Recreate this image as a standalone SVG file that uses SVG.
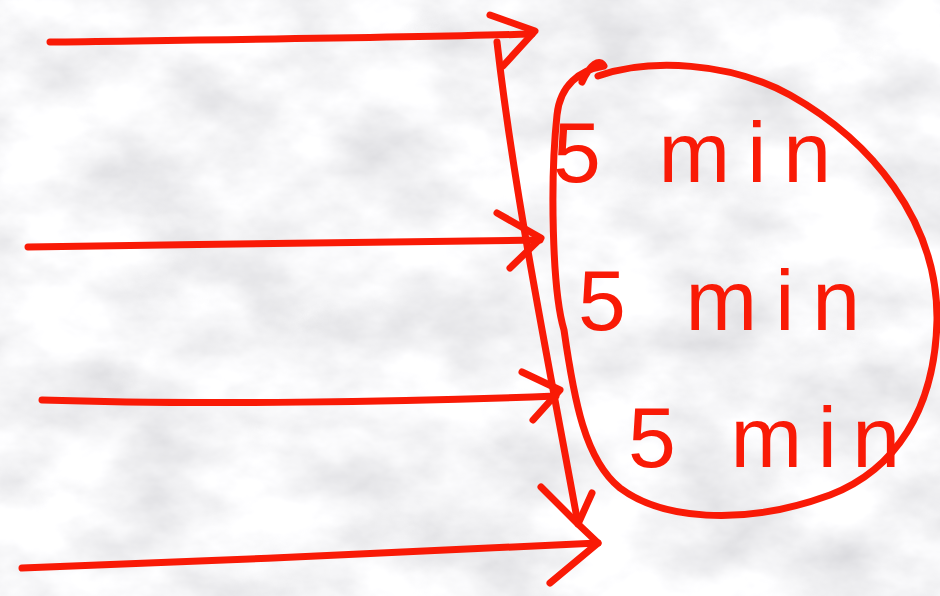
<svg xmlns="http://www.w3.org/2000/svg" width="940" height="596" viewBox="0 0 940 596">
<defs>
<filter id="marble" x="0" y="0" width="100%" height="100%">
<feTurbulence type="fractalNoise" baseFrequency="0.009 0.014" numOctaves="5" seed="7"/>
<feColorMatrix type="matrix" values="0.55 0 0 0 0.64  0.55 0 0 0 0.64  0.52 0 0 0 0.67  0 0 0 0 1"/>
</filter>
<style>
.ink{fill:none;stroke:#f91a06;stroke-width:7;stroke-linecap:round;stroke-linejoin:round}
.hand{fill:#f91a06;font-family:"Liberation Sans","DejaVu Sans",sans-serif;font-size:86px}
</style>
</defs>
<rect width="940" height="596" fill="#e8e9eb"/>
<rect width="940" height="596" filter="url(#marble)"/>
<g id="connectors">
<path class="ink" d="M50,42 C200,40 400,38 532,34"/>
<path class="ink" d="M490,15 L535,31 L503,66"/>
<path class="ink" d="M497,42 C515,200 552,380 578,524"/>
<path class="ink" d="M28,247 C200,244 400,242 540,240"/>
<path class="ink" d="M497,213 L541,238 L510,268"/>
<path class="ink" d="M42,400 C200,405 400,402 556,396"/>
<path class="ink" d="M522,372 L560,390 L533,420"/>
<path class="ink" d="M22,568 C200,562 450,550 598,543"/>
<path class="ink" d="M541,487 L578,524 L598,543 L550,583 M592,493 L578,524"/>
</g>
<g id="timebox">
<path class="ink" d="M582,82 C590,64 600,58 604,66 C580,70 560,85 557,115 C550,180 552,290 564,330 C574,400 585,460 620,488 C660,518 740,528 830,495 C895,470 935,410 937,320 C938,220 870,140 790,95 C730,62 650,58 598,76"/>
<text class="hand" x="553" y="182" textLength="278" lengthAdjust="spacing">5 min</text>
<text class="hand" x="578" y="330" textLength="282" lengthAdjust="spacing">5 min</text>
<text class="hand" x="628" y="467" textLength="272" lengthAdjust="spacing">5 min</text>
</g>
</svg>
